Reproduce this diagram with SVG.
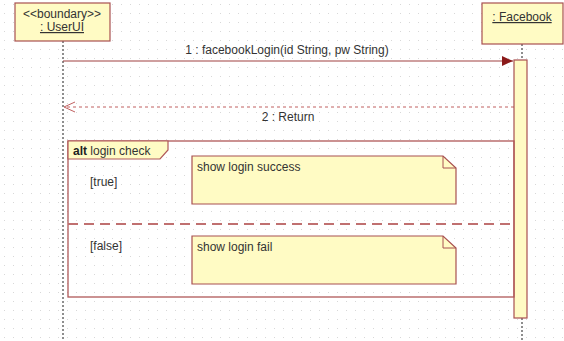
<svg xmlns="http://www.w3.org/2000/svg" width="564" height="341" viewBox="0 0 564 341">
<style>
text{font-family:"Liberation Sans",Arial,sans-serif;font-size:12px;fill:#333}
.box{fill:#fffbc4;stroke:#a85050;stroke-width:1.2}
.life{stroke:#444;stroke-width:1.2;stroke-dasharray:2,2;fill:none}
.msg{stroke:#a04040;stroke-width:1.2;fill:none}
.ret{stroke:#c06060;stroke-width:1;stroke-dasharray:3,3;fill:none}
.frame{stroke:#b05858;stroke-width:1.3;fill:none}
.sep{stroke:#c07070;stroke-width:2;stroke-dasharray:10,6;fill:none}
</style>
<defs>
<pattern id="grid" width="9" height="9" patternUnits="userSpaceOnUse">
<rect x="4" y="4" width="1" height="1" fill="#d8d8d8"/>
</pattern>
<marker id="filled" markerWidth="12" markerHeight="10" refX="11" refY="5" orient="auto" markerUnits="userSpaceOnUse">
<path d="M0,0 L11,5 L0,10 Z" fill="#8b1a1a"/>
</marker>
<marker id="open" markerWidth="12" markerHeight="12" refX="11" refY="6" orient="auto" markerUnits="userSpaceOnUse">
<path d="M0,1 L11,6 L0,11" fill="none" stroke="#c06060" stroke-width="1"/>
</marker>
</defs>
<rect width="564" height="341" fill="#fff"/>
<rect width="564" height="341" fill="url(#grid)"/>

<g id="connectors">
<line class="life" x1="63" y1="41" x2="63" y2="341"/>
<line class="life" x1="522" y1="44" x2="522" y2="60"/>
<line class="life" x1="522" y1="318" x2="522" y2="341"/>
<line class="msg" x1="63" y1="61" x2="513" y2="61" marker-end="url(#filled)"/>
<line class="ret" x1="514" y1="107" x2="64" y2="107" marker-end="url(#open)"/>
</g>

<g id="userui">
<rect class="box" x="15" y="3" width="95" height="38"/>
<text x="62" y="18" text-anchor="middle">&lt;&lt;boundary&gt;&gt;</text>
<text x="62" y="31" text-anchor="middle" text-decoration="underline">: UserUI</text>
</g>

<g id="facebook">
<rect class="box" x="482" y="3" width="81" height="41"/>
<text x="522" y="21" text-anchor="middle" text-decoration="underline">: Facebook</text>
</g>

<g id="activation">
<rect class="box" x="514" y="60" width="13" height="258"/>
</g>

<g id="labels">
<text x="287" y="54" text-anchor="middle">1 : facebookLogin(id String, pw String)</text>
<text x="288" y="121" text-anchor="middle">2 : Return</text>
</g>

<g id="alt-fragment">
<rect class="frame" x="68" y="141" width="446" height="156"/>
<path d="M68,141 H168 V150 L160,159 H68 Z" fill="#fffbc4" stroke="#b05858" stroke-width="1.2"/>
<text x="73" y="155"><tspan font-weight="bold" fill="#222">alt</tspan> login check</text>
<line class="sep" x1="68" y1="224" x2="514" y2="224"/>
<text x="90" y="186">[true]</text>
<text x="90" y="250">[false]</text>
</g>

<g id="note-success">
<path class="box" d="M192,156 H443 L456,168 V204 H192 Z"/>
<path d="M443,156 V168 H456" fill="none" stroke="#a85050" stroke-width="1"/>
<text x="197" y="171">show login success</text>
</g>

<g id="note-fail">
<path class="box" d="M192,236 H443 L456,248 V284 H192 Z"/>
<path d="M443,236 V248 H456" fill="none" stroke="#a85050" stroke-width="1"/>
<text x="197" y="251">show login fail</text>
</g>
</svg>
